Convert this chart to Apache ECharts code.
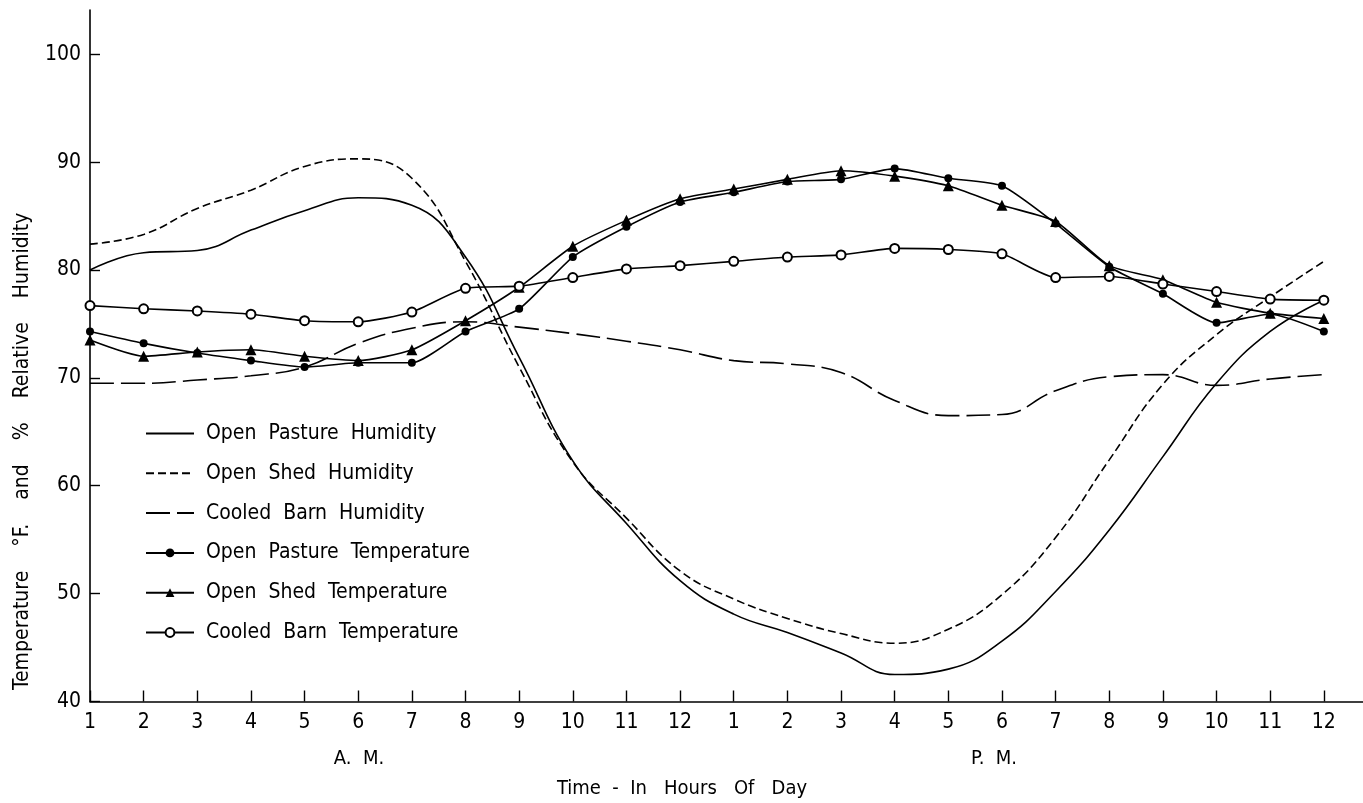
<!DOCTYPE html>
<html>
<head>
<meta charset="utf-8">
<script src="https://cdn.jsdelivr.net/npm/echarts@6/dist/echarts.min.js"></script>
<style>
html,body{margin:0;padding:0;background:#fff;}
#chart{width:1363px;height:803px;}
</style>
</head>
<body>
<div id="chart"></div>
<script>
// hour positions (0 = 1 A.M. ... 23 = 12 P.M.)
var hours = [0,1,2,3,4,5,6,7,8,9,10,11,12,13,14,15,16,17,18,19,20,21,22,23];
var hourLabels = ['1','2','3','4','5','6','7','8','9','10','11','12','1','2','3','4','5','6','7','8','9','10','11','12'];
var yTicks = [40,50,60,70,80,90,100];

var openPastureHumidity = [80.0,81.6,81.8,83.7,85.5,86.7,86.0,81.2,71.9,62.3,56.5,51.2,48.1,46.4,44.5,42.5,43.0,45.6,50.2,55.9,62.7,69.5,74.3,77.2];
var openShedHumidity    = [82.4,83.3,85.7,87.4,89.6,90.3,88.5,80.8,71.0,62.2,57.0,52.1,49.5,47.7,46.3,45.4,46.7,49.9,55.2,62.4,69.4,74.0,77.5,80.8];
var cooledBarnHumidity  = [69.5,69.5,69.8,70.2,71.0,73.2,74.6,75.2,74.7,74.1,73.4,72.6,71.6,71.3,70.5,67.9,66.5,66.6,68.8,70.1,70.3,69.3,69.9,70.3];
var openPastureTemp     = [74.3,73.2,72.3,71.6,71.0,71.4,71.4,74.3,76.4,81.2,84.0,86.3,87.2,88.2,88.4,89.4,88.5,87.8,84.3,80.3,77.8,75.1,75.9,74.3];
var openShedTemp        = [73.5,72.0,72.4,72.6,72.0,71.6,72.6,75.3,78.4,82.2,84.6,86.6,87.5,88.4,89.2,88.7,87.8,86.0,84.5,80.4,79.1,77.0,76.0,75.5];
var cooledBarnTemp      = [76.7,76.4,76.2,75.9,75.3,75.2,76.1,78.3,78.5,79.3,80.1,80.4,80.8,81.2,81.4,82.0,81.9,81.5,79.3,79.4,78.7,78.0,77.3,77.2];

var seriesNames = ['Open Pasture Humidity','Open Shed Humidity','Cooled Barn Humidity','Open Pasture Temperature','Open Shed Temperature','Cooled Barn Temperature'];

var FONT = "'Liberation Sans Narrow','DejaVu Sans Condensed','DejaVu Sans',sans-serif";

function pairs(vals){ return hours.map(function(h,i){ return [h, vals[i]]; }); }

function humSeries(name, vals, dash){
  return {
    name: name, type: 'line', data: pairs(vals), smooth: 0.45,
    symbol: 'none', z: 2,
    lineStyle: {color:'#000', width: 1.6, type: dash},
    itemStyle: {color:'#000'}
  };
}
function tempSeries(name, vals, sym, size){
  return {
    name: name, type: 'line', data: pairs(vals), smooth: 0.2,
    symbol: sym, symbolSize: size, showSymbol: true, z: 3,
    lineStyle: {color:'#000', width: 1.6},
    itemStyle: {color:'#000', borderColor:'#000', borderWidth: sym==='emptyCircle'?1.5:0}
  };
}

var chart = echarts.init(document.getElementById('chart'), null, {renderer:'canvas'});
chart.setOption({
  backgroundColor: '#fff',
  animation: false,
  grid: {left: 90, right: 0, top: 10, bottom: 101.5, containLabel: false},
  xAxis: {
    type: 'value', min: 0, max: 23.73,
    axisLine: {show: true, lineStyle: {color:'#000', width: 1.6}},
    axisTick: {show: true, inside: true, length: 11, customValues: hours, lineStyle:{color:'#000', width:1.4}},
    axisLabel: {customValues: hours, color:'#000', fontSize: 21, fontFamily: FONT, margin: 11,
      formatter: function(v){ return hourLabels[Math.round(v)]; }},
    splitLine: {show: false}
  },
  yAxis: {
    type: 'value', min: 40, max: 104.1,
    axisLine: {show: true, lineStyle: {color:'#000', width: 1.6}},
    axisTick: {show: true, inside: true, length: 10, customValues: yTicks, lineStyle:{color:'#000', width:1.4}},
    axisLabel: {customValues: yTicks, color:'#000', fontSize: 21, fontFamily: FONT, margin: 9},
    splitLine: {show: false}
  },
  legend: {
    orient: 'vertical', left: 140, top: 418,
    itemWidth: 48, itemHeight: 11, itemGap: 18.8,
    textStyle: {color:'#000', fontSize: 21, fontFamily: FONT, padding: [0,0,0,7]},
    formatter: function(n){ return n.split(' ').join('  '); },
    data: seriesNames.map(function(n, i){
      return i < 3 ? {name: n, itemStyle: {opacity: 0}} : {name: n};
    })
  },
  graphic: [
    {type:'text', x: 12, y: 690, rotation: Math.PI/2,
      style:{text:'Temperature    °F.    and    %    Relative    Humidity', fill:'#000', font: '21px ' + FONT}},
    {type:'text', x: 359, y: 759, style:{text:'A.  M.', fill:'#000', font:'20px '+FONT, align:'center', verticalAlign:'middle'}},
    {type:'text', x: 994, y: 759, style:{text:'P.  M.', fill:'#000', font:'20px '+FONT, align:'center', verticalAlign:'middle'}},
    {type:'text', x: 682, y: 789, style:{text:'Time  -  In   Hours   Of   Day', fill:'#000', font:'20px '+FONT, align:'center', verticalAlign:'middle'}}
  ],
  series: [
    humSeries(seriesNames[0], openPastureHumidity, 'solid'),
    humSeries(seriesNames[1], openShedHumidity, [8,4]),
    humSeries(seriesNames[2], cooledBarnHumidity, [24,7]),
    tempSeries(seriesNames[3], openPastureTemp, 'circle', 8),
    tempSeries(seriesNames[4], openShedTemp, 'triangle', 11),
    tempSeries(seriesNames[5], cooledBarnTemp, 'emptyCircle', 9)
  ]
});
</script>
</body>
</html>
